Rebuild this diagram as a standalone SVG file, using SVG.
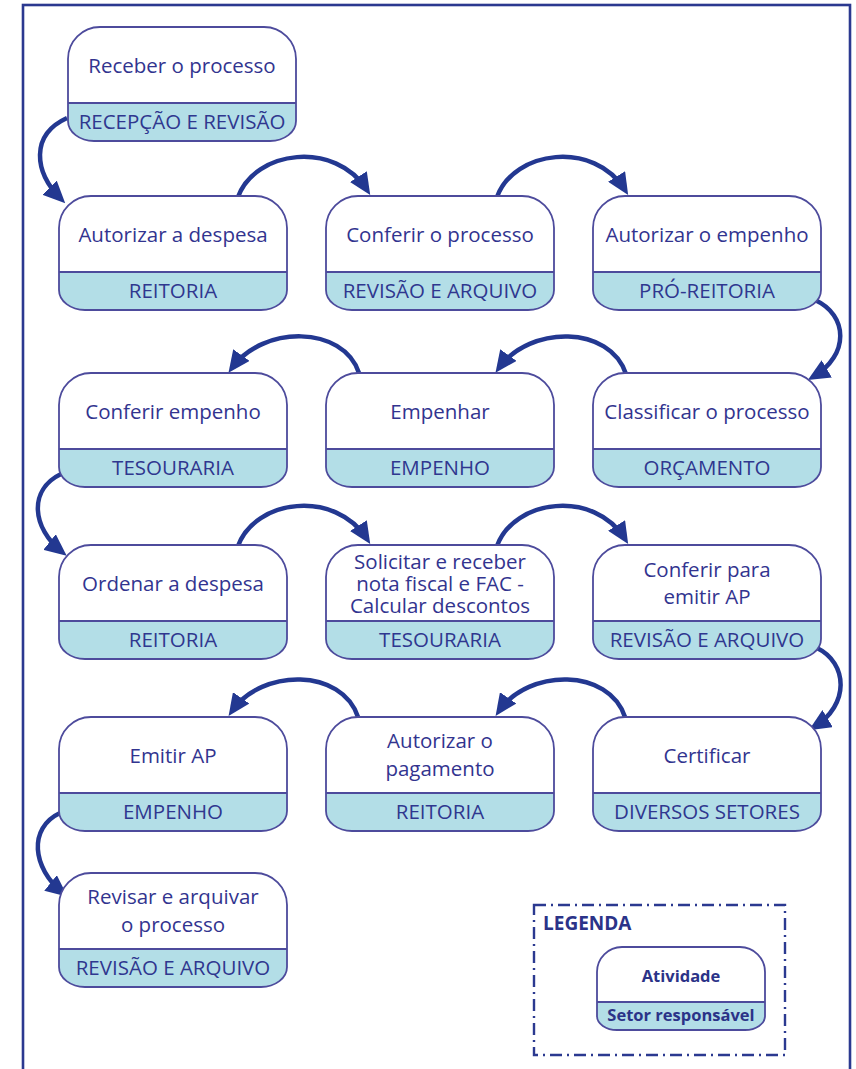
<svg xmlns="http://www.w3.org/2000/svg" xmlns:xlink="http://www.w3.org/1999/xlink" width="856" height="1069" viewBox="0 0 856 1069">
<style>
.t{font-family:"Open Sans","Liberation Sans",sans-serif;font-size:20.5px;fill:#32348f;text-anchor:middle}
.s{font-family:"Open Sans","Liberation Sans",sans-serif;font-size:20.5px;fill:#2f378f;text-anchor:middle}
.lg{font-family:"Open Sans","Liberation Sans",sans-serif;font-weight:bold;fill:#2b3388}
.arr{fill:none;stroke:#233891;stroke-width:4.5;marker-end:url(#ah)}
.edge{fill:none;stroke:#4d4b9c;stroke-width:1.8}
</style>
<defs>
<marker id="ah" markerUnits="userSpaceOnUse" markerWidth="22" markerHeight="20" refX="16" refY="10" orient="auto" viewBox="0 0 22 20">
<path d="M0,0 L22,10 L0,20 Z" fill="#233891"/>
</marker>
<g id="box">
<path d="M0,32 A32,32 0 0 1 32,0 H196 A32,32 0 0 1 228,32 V94 A26,20 0 0 1 202,114 H26 A26,20 0 0 1 0,94 Z" fill="#ffffff"/>
<path d="M0,76 H228 V94 A26,20 0 0 1 202,114 H26 A26,20 0 0 1 0,94 Z" fill="#b3dee7"/>
<path class="edge" d="M0,32 A32,32 0 0 1 32,0 H196 A32,32 0 0 1 228,32 V94 A26,20 0 0 1 202,114 H26 A26,20 0 0 1 0,94 Z M0,76 H228"/>
</g>
</defs>
<rect width="856" height="1069" fill="#ffffff"/>
<rect x="23" y="5" width="827" height="1090" fill="none" stroke="#2b3990" stroke-width="2.6"/>

<g id="connectors">
<path class="arr" d="M67,118 C30,135 34,172 61,199"/>
<path class="arr" d="M238,197 C255,150 335,140 367,190"/>
<path class="arr" d="M497,197 C514,150 594,140 625,190"/>
<path class="arr" d="M815,300 C848,315 850,355 813,377"/>
<path class="arr" d="M626,374 C610,325 530,325 499,368"/>
<path class="arr" d="M359,373 C343,325 263,325 232,368"/>
<path class="arr" d="M61,474 C28,490 32,528 62,552"/>
<path class="arr" d="M238,546 C255,499 335,489 367,539"/>
<path class="arr" d="M497,546 C514,499 594,489 625,539"/>
<path class="arr" d="M817,648 C848,663 850,705 814,727"/>
<path class="arr" d="M625,717 C609,668 529,668 499,711"/>
<path class="arr" d="M358,717 C342,668 262,668 232,711"/>
<path class="arr" d="M60,813 C28,828 32,868 63,893"/>
</g>

<g id="n1" transform="translate(68,27)"><use xlink:href="#box"/><text class="t" x="114" y="46">Receber o processo</text><text class="s" x="114" y="102">RECEPÇÃO E REVISÃO</text></g>

<g id="n2" transform="translate(59,196)"><use xlink:href="#box"/><text class="t" x="114" y="46">Autorizar a despesa</text><text class="s" x="114" y="102">REITORIA</text></g>
<g id="n3" transform="translate(326,196)"><use xlink:href="#box"/><text class="t" x="114" y="46">Conferir o processo</text><text class="s" x="114" y="102">REVISÃO E ARQUIVO</text></g>
<g id="n4" transform="translate(593,196)"><use xlink:href="#box"/><text class="t" x="114" y="46">Autorizar o empenho</text><text class="s" x="114" y="102">PRÓ-REITORIA</text></g>

<g id="n5" transform="translate(593,373)"><use xlink:href="#box"/><text class="t" x="114" y="46">Classificar o processo</text><text class="s" x="114" y="102">ORÇAMENTO</text></g>
<g id="n6" transform="translate(326,373)"><use xlink:href="#box"/><text class="t" x="114" y="46">Empenhar</text><text class="s" x="114" y="102">EMPENHO</text></g>
<g id="n7" transform="translate(59,373)"><use xlink:href="#box"/><text class="t" x="114" y="46">Conferir empenho</text><text class="s" x="114" y="102">TESOURARIA</text></g>

<g id="n8" transform="translate(59,545)"><use xlink:href="#box"/><text class="t" x="114" y="46">Ordenar a despesa</text><text class="s" x="114" y="102">REITORIA</text></g>
<g id="n9" transform="translate(326,545)"><use xlink:href="#box"/><text class="t" x="114" y="23.5">Solicitar e receber</text><text class="t" x="114" y="45.5">nota fiscal e FAC -</text><text class="t" x="114" y="67.5">Calcular descontos</text><text class="s" x="114" y="102">TESOURARIA</text></g>
<g id="n10" transform="translate(593,545)"><use xlink:href="#box"/><text class="t" x="114" y="32">Conferir para</text><text class="t" x="114" y="59">emitir AP</text><text class="s" x="114" y="102">REVISÃO E ARQUIVO</text></g>

<g id="n11" transform="translate(593,717)"><use xlink:href="#box"/><text class="t" x="114" y="46">Certificar</text><text class="s" x="114" y="102">DIVERSOS SETORES</text></g>
<g id="n12" transform="translate(326,717)"><use xlink:href="#box"/><text class="t" x="114" y="31">Autorizar o</text><text class="t" x="114" y="59">pagamento</text><text class="s" x="114" y="102">REITORIA</text></g>
<g id="n13" transform="translate(59,717)"><use xlink:href="#box"/><text class="t" x="114" y="46">Emitir AP</text><text class="s" x="114" y="102">EMPENHO</text></g>

<g id="n14" transform="translate(59,873)"><use xlink:href="#box"/><text class="t" x="114" y="31">Revisar e arquivar</text><text class="t" x="114" y="59">o processo</text><text class="s" x="114" y="102">REVISÃO E ARQUIVO</text></g>

<g id="legend">
<rect x="534" y="905" width="251" height="150" fill="none" stroke="#2b3990" stroke-width="2.4" stroke-dasharray="12 5 2 5"/>
<text class="lg" x="543" y="930" font-size="19">LEGENDA</text>
<path d="M597,972 A25,25 0 0 1 622,947 H740 A25,25 0 0 1 765,972 V1016 A20,14 0 0 1 745,1030 H617 A20,14 0 0 1 597,1016 Z" fill="#ffffff"/>
<path d="M597,1002 H765 V1016 A20,14 0 0 1 745,1030 H617 A20,14 0 0 1 597,1016 Z" fill="#b3dee7"/>
<path class="edge" d="M597,972 A25,25 0 0 1 622,947 H740 A25,25 0 0 1 765,972 V1016 A20,14 0 0 1 745,1030 H617 A20,14 0 0 1 597,1016 Z M597,1002 H765"/>
<text class="lg" x="681" y="982" font-size="16.5" text-anchor="middle">Atividade</text>
<text class="lg" x="681" y="1021" font-size="16.5" text-anchor="middle">Setor responsável</text>
</g>
</svg>
